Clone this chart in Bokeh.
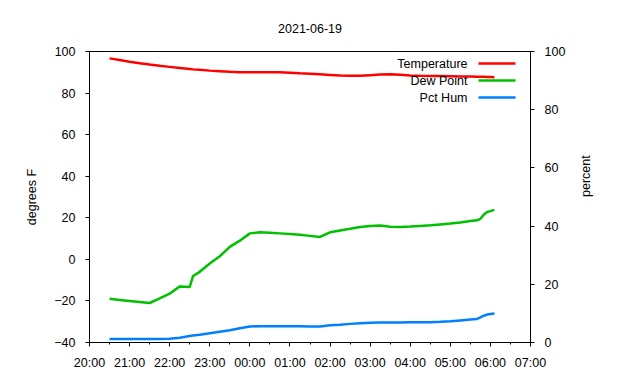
import math
import datetime as dt

from bokeh.plotting import figure
from bokeh.models import (Range1d, LinearAxis, FixedTicker, DatetimeTickFormatter,
                          Label, BoxAnnotation)
from bokeh.embed import file_html
from bokeh.resources import INLINE

# ---------------- data ----------------
TITLE = "2021-06-19"
LEFT_LABEL = "degrees F"
RIGHT_LABEL = "percent"

times = ["20:30", "20:45", "21:00", "21:15", "21:30", "21:45", "22:00", "22:15",
         "22:30", "22:35", "22:45", "23:00", "23:15", "23:30", "23:45", "00:00",
         "00:15", "00:30", "00:45", "01:00", "01:15", "01:30", "01:45", "02:00",
         "02:15", "02:30", "02:45", "03:00", "03:15", "03:30", "03:45", "04:00",
         "04:15", "04:30", "04:45", "05:00", "05:15", "05:30", "05:40", "05:45",
         "05:50", "05:55", "06:00", "06:06"]

temperature = [96.7, 95.9, 95.1, 94.4, 93.7, 93.1, 92.6, 92.1,
               91.6, 91.4, 91.2, 90.8, 90.5, 90.2, 90.0, 90.0,
               90.0, 90.0, 90.0, 89.8, 89.5, 89.3, 89.0, 88.7,
               88.4, 88.3, 88.3, 88.6, 88.9, 89.0, 88.8, 88.5,
               88.3, 88.2, 88.2, 88.1, 88.0, 88.0, 87.9, 87.9,
               87.8, 87.7, 87.7, 87.6]

dew_point = [-19.0, -19.5, -20.0, -20.5, -21.0, -18.8, -16.5, -13.0,
             -13.3, -8.0, -6.0, -2.0, 1.5, 6.0, 9.0, 12.5,
             13.0, 12.8, 12.5, 12.2, 11.8, 11.3, 10.8, 13.0,
             13.9, 14.7, 15.6, 16.1, 16.3, 15.7, 15.6, 15.8,
             16.1, 16.4, 16.8, 17.2, 17.7, 18.4, 18.8, 19.5,
             21.5, 22.8, 23.2, 23.8]

pct_hum = [1.2, 1.2, 1.2, 1.2, 1.2, 1.2, 1.3, 1.6,
           2.2, 2.4, 2.7, 3.2, 3.7, 4.2, 4.9, 5.5,
           5.6, 5.6, 5.6, 5.6, 5.6, 5.5, 5.5, 5.9,
           6.1, 6.4, 6.6, 6.8, 6.9, 6.9, 6.9, 7.0,
           7.0, 7.0, 7.1, 7.3, 7.6, 7.9, 8.1, 8.6,
           9.2, 9.6, 9.8, 10.0]

x_start = "20:00"
x_end = "07:00"
left_ticks = [-40, -20, 0, 20, 40, 60, 80, 100]
right_ticks = [0, 20, 40, 60, 80, 100]
series_names = ["Temperature", "Dew Point", "Pct Hum"]
series_colors = ["#ff0000", "#00c000", "#0080ff"]

# ---------------- helpers ----------------
BASE = dt.datetime(2021, 6, 19)
EPOCH = dt.datetime(1970, 1, 1)


def to_dt(hhmm):
    h, m = map(int, hhmm.split(":"))
    d = BASE + dt.timedelta(hours=h, minutes=m)
    if h < 12:
        d += dt.timedelta(days=1)
    return d


def ms(d):
    return (d - EPOCH).total_seconds() * 1000.0


t = [to_dt(s) for s in times]
x0 = to_dt(x_start)
x1 = to_dt(x_end)
n_hours = int(round((x1 - x0).total_seconds() / 3600))
hour_ticks = [ms(x0 + dt.timedelta(hours=i)) for i in range(n_hours + 1)]
half_ticks = [ms(x0 + dt.timedelta(hours=i, minutes=30)) for i in range(n_hours)]

FONT = "Liberation Sans"
FS = "12.5px"

p = figure(width=624, height=372, x_axis_type="datetime",
           x_range=Range1d(ms(x0), ms(x1)), y_range=Range1d(-40, 100),
           output_backend="svg", toolbar_location=None,
           min_border_left=89, min_border_right=94,
           min_border_top=51, min_border_bottom=30)
p.extra_y_ranges = {"pct": Range1d(0, 100)}

p.background_fill_color = "white"
p.border_fill_color = "white"
p.outline_line_color = "black"
p.outline_line_width = 1
p.xgrid.visible = False
p.ygrid.visible = False

p.title.text = TITLE
p.title.align = "center"
p.title.text_font = FONT
p.title.text_font_size = FS
p.title.text_font_style = "normal"
p.title.text_color = "black"
p.title.standoff = 38
p.title.offset = -4

# lines
p.line(t, temperature, color=series_colors[0], line_width=2.5)
p.line(t, dew_point, color=series_colors[1], line_width=2.5)
p.line(t, pct_hum, color=series_colors[2], line_width=2.5, y_range_name="pct")

# axes
right_axis = LinearAxis(y_range_name="pct", axis_label=RIGHT_LABEL)
p.add_layout(right_axis, "right")

xa = p.xaxis[0]
xa.ticker = FixedTicker(ticks=hour_ticks, minor_ticks=half_ticks)
fmt = "%H:%M"
xa.formatter = DatetimeTickFormatter(microseconds=fmt, milliseconds=fmt, seconds=fmt,
                                     minsec=fmt, minutes=fmt, hourmin=fmt, hours=fmt,
                                     days=fmt, months=fmt, years=fmt)

ya = p.yaxis[0]
ya.ticker = FixedTicker(ticks=left_ticks)
ya.axis_label = LEFT_LABEL
right_axis.ticker = FixedTicker(ticks=right_ticks)

for ax in [xa, ya, right_axis]:
    ax.axis_line_color = "black"
    ax.axis_line_width = 1
    ax.major_tick_line_color = "black"
    ax.minor_tick_line_color = "black"
    ax.major_tick_in = 0
    ax.major_tick_out = 4
    ax.minor_tick_in = 0
    ax.minor_tick_out = 2
    ax.major_label_text_font = FONT
    ax.major_label_text_font_size = FS
    ax.major_label_text_color = "black"
    ax.axis_label_text_font = FONT
    ax.axis_label_text_font_size = FS
    ax.axis_label_text_font_style = "normal"
    ax.axis_label_text_color = "black"

xa.major_label_standoff = 9
ya.major_label_standoff = 10
right_axis.major_label_standoff = 10
ya.axis_label_standoff = 12
right_axis.axis_label_standoff = 18
ya.minor_tick_out = 0
right_axis.minor_tick_out = 0

if "axis_label_orientation" in LinearAxis.properties():
    right_axis.axis_label_orientation = math.pi / 2

# custom legend: text right-aligned, then line sample (screen units relative to frame)
legend_text_x = 378
legend_line_x0 = 389
legend_line_x1 = 426
legend_row_y = [279, 262, 245]
for name, col, ry in zip(series_names, series_colors, legend_row_y):
    p.add_layout(Label(x=legend_text_x, y=ry, x_units="screen", y_units="screen",
                       text=name, text_align="right", text_baseline="middle",
                       text_font=FONT, text_font_size=FS, text_color="black"))
    p.add_layout(BoxAnnotation(left=legend_line_x0, right=legend_line_x1,
                               bottom=ry - 1.25, top=ry + 1.25,
                               left_units="screen", right_units="screen",
                               bottom_units="screen", top_units="screen",
                               fill_color=col, fill_alpha=1.0, line_color=None))

open("out.html", "w").write(file_html(p, INLINE))
